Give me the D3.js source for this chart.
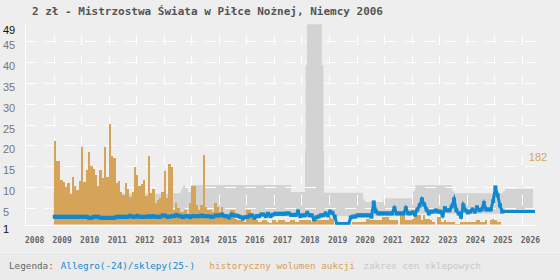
<!DOCTYPE html>
<html>
<head>
<meta charset="utf-8">
<script src="https://cdn.jsdelivr.net/npm/d3@7"></script>
<style>
  body { margin: 0; background: #eeeeee; }
  svg { display: block; }
</style>
</head>
<body>
<div id="chart"></div>
<script>
// title + legend texts
var titleText = "2 zł - Mistrzostwa Świata w Piłce Nożnej, Niemcy 2006";
var legendLabels = ["Legenda:", "Allegro(-24)/sklepy(25-)", "historyczny wolumen aukcji", "zakres cen sklepowych"];
var volumeMaxLabel = "182";

// tick labels
var yTicks = [1, 5, 10, 15, 20, 25, 30, 35, 40, 45, 49];
var xYears = d3.range(2008, 2027);

// monthly auction volume, from 2009-01 (drawn in price units)
var volumeStart = 2009;
var volumes = [21.0,16.2,16.2,11.6,11.1,9.9,10.9,8.4,12.4,10.2,9.2,11.4,19.6,11.1,14.0,18.4,15.0,14.3,12.8,10.2,14.0,12.1,19.6,12.4,
  25.1,17.4,16.9,10.9,11.4,8.7,8.2,10.9,9.5,7.5,8.7,14.8,12.8,10.2,10.7,11.6,7.8,17.4,8.5,9.5,6.1,
  7.0,7.4,8.7,13.8,7.3,15.5,14.8,4.4,6.1,4.9,4.1,4.1,4.4,3.4,6.1,10.2,10.2,5.8,4.4,5.8,17.7,5.1,4.6,4.6,3.9,6.1,5.1,4.1,5.3,3.2,
  2.7,2.7,4.4,4.4,2.4,2.2,2.2,2.7,1.7,4.4,4.4,2.7,2.7,2.2,1.7,1.5,2.2,2.2,1.7,1.3,2.2,2.2,1.7,2.0,2.0,2.2,
  1.7,1.7,2.0,2.0,1.7,1.7,2.0,2.0,2.0,2.0,2.0,1.7,1.5,2.0,2.0,2.0,2.0,2.0,2.2,2.9,2.4,0,0,0,0,0,0,0,0,1.5,1.5,1.5,1.5,1.5,1.5,
  2.4,2.4,2.0,2.0,2.2,2.2,2.2,2.7,2.7,2.9,2.0,2.0,2.2,2.2,0,3.2,3.2,2.2,2.2,2.2,2.4,4.6,
  3.2,3.2,2.2,3.2,2.4,2.4,2.2,1.5,0,2.7,2.7,1.5,2.2,1.7,1.7,1.5,1.5,1.2,1.2,1.5,1.5,1.7,1.7,1.5,1.5,1.5,2.0,2.0,1.7,1.7,2.0,0,
  2.0,2.4,2.0,1.7,1.7];

// monthly price (Allegro until 2024, shops after), from 2009-01
var prices = [2.85,2.85,2.85,2.85,2.85,2.85,2.85,2.85,2.85,2.85,2.85,2.85,2.85,2.85,2.85,2.6,2.6,2.85,2.85,2.85,
  2.6,2.6,2.6,2.6,2.6,2.6,2.6,2.85,2.85,2.85,2.85,2.85,2.85,3.1,2.85,2.85,3.1,2.85,2.85,2.85,2.85,3.0,2.85,3.0,2.85,
  2.86,2.86,3.17,3.17,2.86,2.86,3.0,3.0,3.33,3.0,3.0,2.77,3.0,3.0,2.77,3.0,3.0,3.0,3.0,3.17,3.0,3.0,3.0,2.86,2.86,
  3.17,3.17,3.17,3.4,3.0,3.0,2.7,3.4,3.17,3.17,3.0,2.77,2.45,2.77,2.77,3.17,3.17,2.6,3.0,3.0,3.4,3.4,3.0,3.57,3.0,
  3.33,3.57,3.57,3.57,3.57,3.57,
  3.66,3.66,3.3,3.3,3.3,4.1,3.0,3.2,3.2,3.8,3.2,3.2,2.2,2.7,2.9,3.2,3.2,3.66,3.2,4.1,3.8,2.9,1.1,1.1,1.1,1.1,1.1,1.1,
  2.7,2.9,2.9,3.2,3.2,3.2,3.2,3.2,3.2,2.9,6.3,4.1,3.66,3.66,3.66,3.66,3.66,3.66,3.66,4.9,3.66,3.66,3.66,3.66,4.9,
  3.66,3.66,3.9,3.4,
  4.6,5.6,7.0,5.8,4.6,3.66,4.1,4.1,4.4,4.1,4.1,3.2,4.9,4.4,4.4,5.3,7.0,4.4,3.66,2.9,5.6,4.4,3.9,4.1,4.6,4.1,5.1,
  4.4,4.6,6.1,4.6,4.6,4.6,6.6,9.9,8.0,5.6,4.1];
var shopPriceEnd = {year: 2026.48, price: 4.1};

// shop price range, step starts (year) with upper values
var rangeYears = [2009.0, 2013.3, 2013.6, 2013.65, 2013.7, 2013.78, 2013.88, 2014.02, 2017.62, 2018.13, 2018.16, 2018.2,
  2018.73, 2018.79, 2018.82, 2020.24, 2020.31, 2020.98, 2022.05, 2022.12, 2023.47, 2023.55, 2025.32, 2025.39, 2026.41];
var rangeHigh = [8.4, 8.5, 9.0, 9.6, 10.4, 9.8, 8.8, 10.5, 8.8, 18.7, 39.2, 55,
  39.2, 18.7, 8.65, 7.0, 6.4, 7.3, 9.0, 10.4, 9.0, 8.5, 9.0, 9.5, 9.5];
var rangeLowYears = [2009.0, 2021.5, 2025.3];
var rangeLow = [3.0, 3.6, 4.0];

// svg
var svgWidth = 560, svgHeight = 280;
var plot = {left: 25, right: 535, top: 24.5, bottom: 224.5};

var svg = d3.select("#chart").append("svg")
  .attr("width", svgWidth)
  .attr("height", svgHeight);

svg.append("rect").attr("width", svgWidth).attr("height", svgHeight).attr("fill", "#eeeeee");

var xScale = d3.scaleLinear().domain([2008, 2026.48]).range([26, plot.right]);
var yScale = d3.scaleLinear().domain([1, 49]).range([plot.bottom, plot.top]);

var defs = svg.append("defs");
defs.append("clipPath").attr("id", "plotclip")
  .append("rect")
  .attr("x", plot.left).attr("y", plot.top)
  .attr("width", plot.right - plot.left).attr("height", plot.bottom - plot.top);
// top part only (where the range spike sticks out above the grid)
defs.append("clipPath").attr("id", "spikeclip")
  .append("rect")
  .attr("x", plot.left).attr("y", plot.top)
  .attr("width", plot.right - plot.left).attr("height", yScale(11) - plot.top);

// shop range area
function lowAt(yr) {
  var v = rangeLow[0];
  rangeLowYears.forEach(function(ly, i) { if (yr >= ly) v = rangeLow[i]; });
  return v;
}
var rangeData = rangeYears.map(function(yr, i) { return {year: yr, hi: rangeHigh[i], lo: lowAt(yr)}; });
rangeLowYears.slice(1).forEach(function(ly) {
  var hi = rangeHigh[0];
  rangeYears.forEach(function(yr, i) { if (yr <= ly) hi = rangeHigh[i]; });
  rangeData.push({year: ly, hi: hi, lo: lowAt(ly)});
});
rangeData.sort(function(a, b) { return a.year - b.year; });

var rangeArea = d3.area()
  .curve(d3.curveStepAfter)
  .x(function(d) { return xScale(d.year); })
  .y0(function(d) { return yScale(d.lo); })
  .y1(function(d) { return yScale(d.hi); });

svg.append("g").attr("clip-path", "url(#plotclip)")
  .append("path")
  .datum(rangeData)
  .attr("d", rangeArea)
  .attr("fill", "#d3d3d3");

// grid
var gridGroup = svg.append("g").attr("shape-rendering", "crispEdges");
gridGroup.selectAll(".hgrid")
  .data(yTicks.filter(function(t) { return t > 1 && t < 49; }))
  .enter().append("line")
  .attr("x1", plot.left).attr("x2", plot.right)
  .attr("y1", function(d) { return Math.round(yScale(d)) + 0.5; })
  .attr("y2", function(d) { return Math.round(yScale(d)) + 0.5; })
  .attr("stroke", "#ffffff")
  .attr("stroke-dasharray", "11,9");

gridGroup.selectAll(".vgrid")
  .data(xYears.slice(1))
  .enter().append("line")
  .attr("x1", function(d) { return Math.round(xScale(d)) + 0.5; })
  .attr("x2", function(d) { return Math.round(xScale(d)) + 0.5; })
  .attr("y1", plot.bottom).attr("y2", plot.top)
  .attr("stroke", "#ffffff")
  .attr("stroke-dasharray", "10,10");

gridGroup.append("line")
  .attr("x1", plot.left + 0.5).attr("x2", plot.left + 0.5)
  .attr("y1", plot.top).attr("y2", plot.bottom + 1)
  .attr("stroke", "#ffffff");
gridGroup.append("line")
  .attr("x1", plot.left).attr("x2", plot.right)
  .attr("y1", plot.bottom + 0.5).attr("y2", plot.bottom + 0.5)
  .attr("stroke", "#ffffff");

// the tall part of the range covers the grid
svg.append("g").attr("clip-path", "url(#spikeclip)")
  .append("path")
  .datum(rangeData)
  .attr("d", rangeArea)
  .attr("fill", "#d3d3d3");

// volume bars
var barGroup = svg.append("g").attr("clip-path", "url(#plotclip)").attr("shape-rendering", "crispEdges");
barGroup.selectAll("rect")
  .data(volumes)
  .enter().append("rect")
  .attr("x", function(d, i) { return Math.round(xScale(volumeStart + i / 12)); })
  .attr("width", function(d, i) { return Math.round(xScale(volumeStart + (i + 1) / 12)) - Math.round(xScale(volumeStart + i / 12)); })
  .attr("y", function(d) { return Math.round(yScale(Math.max(d, 1))); })
  .attr("height", function(d) { return Math.round(yScale(1)) + 1 - Math.round(yScale(Math.max(d, 1))); })
  .attr("fill", "#d6a458");

// price line
var priceData = prices.map(function(p, i) { return {year: volumeStart + (i + 0.5) / 12, price: p}; });
var lineData = priceData.concat([shopPriceEnd]);

var priceLine = d3.line()
  .x(function(d) { return xScale(d.year); })
  .y(function(d) { return yScale(d.price); });

var lineGroup = svg.append("g").attr("clip-path", "url(#plotclip)");
lineGroup.append("path")
  .datum(lineData)
  .attr("d", priceLine)
  .attr("fill", "none")
  .attr("stroke", "#1088d0")
  .attr("stroke-width", 3)
  .attr("stroke-linejoin", "miter");

lineGroup.selectAll(".pt")
  .data(priceData)
  .enter().append("rect")
  .attr("x", function(d) { return xScale(d.year) - 2; })
  .attr("y", function(d) { return yScale(d.price) - 2; })
  .attr("width", 4).attr("height", 4)
  .attr("fill", "#1088d0");

// y labels
svg.append("g").selectAll("text")
  .data(yTicks)
  .enter().append("text")
  .attr("x", 3)
  .attr("y", function(d) { return yScale(d) + (d === 49 ? 9 : 8); })
  .attr("font-family", "Liberation Sans, Arial, sans-serif")
  .attr("font-size", 11)
  .attr("fill", function(d) { return (d === 1 || d === 49) ? "#111" : "#777"; })
  .text(function(d) { return d; });

// x labels
svg.append("g").selectAll("text")
  .data(xYears)
  .enter().append("text")
  .attr("x", function(d) { return xScale(d) - 1; })
  .attr("y", 242.5)
  .attr("font-family", "DejaVu Sans Mono, monospace")
  .attr("font-size", 8)
  .attr("font-weight", "bold")
  .attr("fill", "#666")
  .text(function(d) { return d; });

// volume max label
svg.append("text")
  .attr("x", 538).attr("y", 161)
  .attr("text-anchor", "middle")
  .attr("font-family", "Liberation Sans, Arial, sans-serif")
  .attr("font-size", 11)
  .attr("fill", "#d9a55a")
  .text(volumeMaxLabel);

// title
svg.append("text")
  .attr("x", 32).attr("y", 15)
  .attr("font-family", "DejaVu Sans Mono, monospace")
  .attr("font-size", 11)
  .attr("font-weight", "bold")
  .attr("fill", "#555")
  .text(titleText);

// legend strip
svg.append("rect").attr("x", 0).attr("y", 253).attr("width", svgWidth).attr("height", 27).attr("fill", "#ebebeb");
svg.append("line").attr("x1", 0).attr("x2", svgWidth).attr("y1", 252.5).attr("y2", 252.5).attr("stroke", "#f5f5f5");

var legendX = [9, 60.7, 209.3, 363.3];
var legendColors = ["#666", "#1088d0", "#d9a050", "#c8c8c8"];
svg.append("g").selectAll("text")
  .data(legendLabels)
  .enter().append("text")
  .attr("x", function(d, i) { return legendX[i]; })
  .attr("y", 269)
  .attr("font-family", "DejaVu Sans Mono, monospace")
  .attr("font-size", 9.3)
  .attr("fill", function(d, i) { return legendColors[i]; })
  .text(function(d) { return d; });
</script>
</body>
</html>
